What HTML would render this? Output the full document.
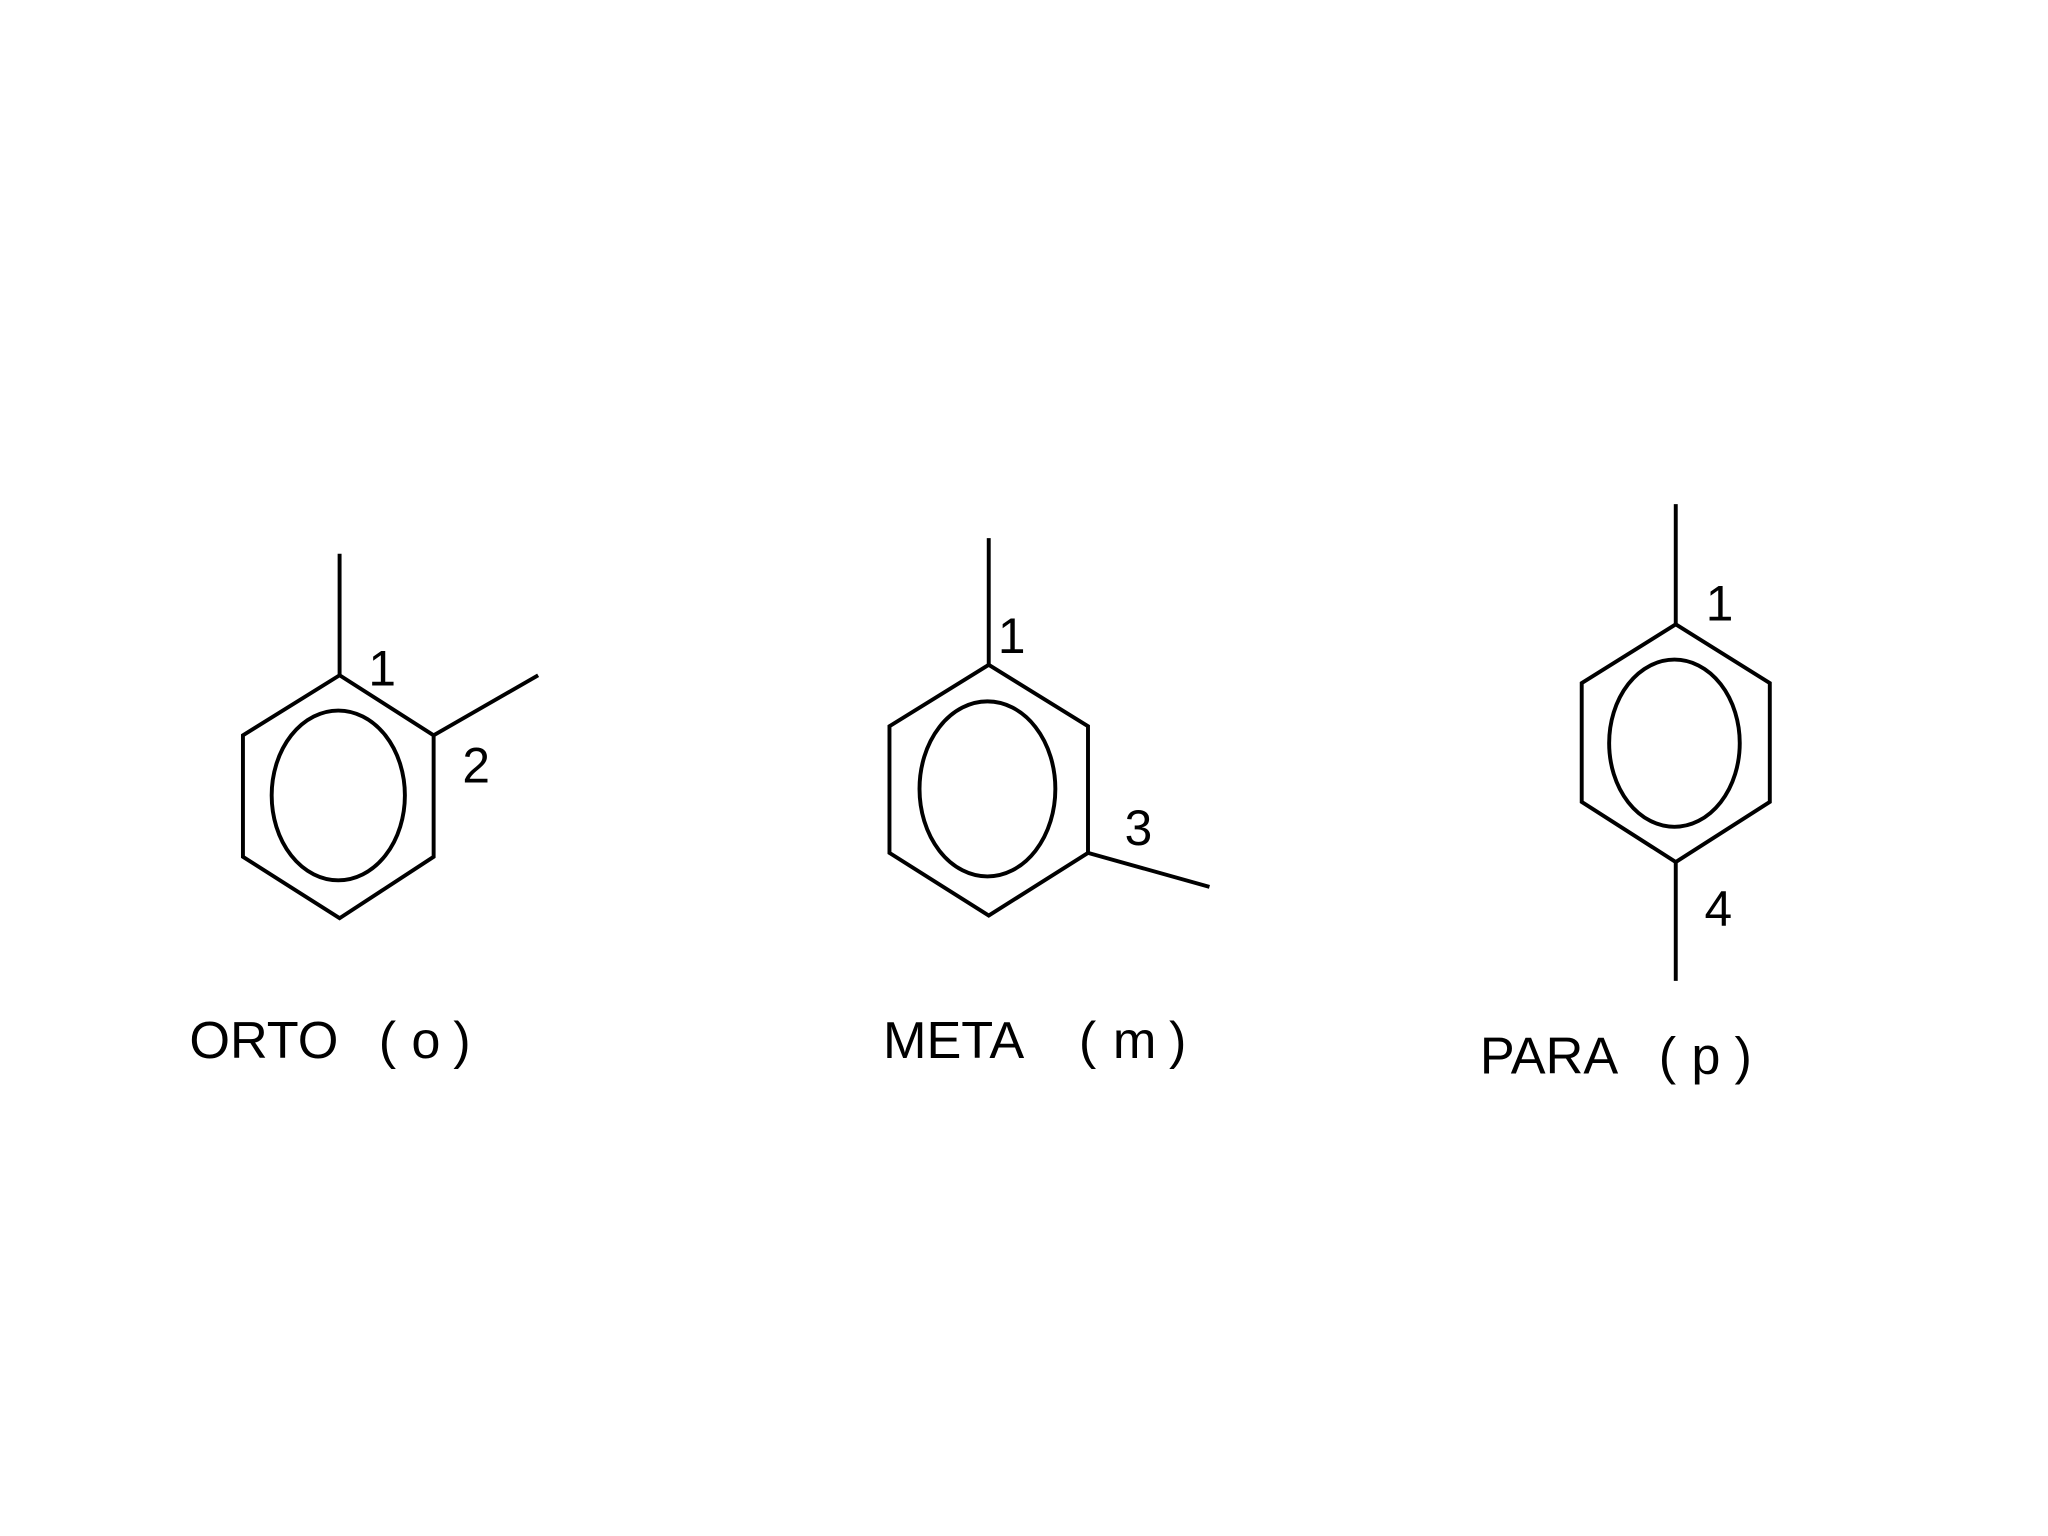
<!DOCTYPE html>
<html><head><meta charset="utf-8"><style>
html,body{margin:0;padding:0;background:#fff;width:2048px;height:1536px;overflow:hidden}
svg{display:block}
text{font-family:"Liberation Sans",sans-serif;fill:#000}
</style></head><body>
<svg width="2048" height="1536" viewBox="0 0 1568 1176">
<g stroke="#000" stroke-width="3" fill="none">
 <g>
  <polygon points="260,517 332,563 332,656 260,703 186,656 186,563"/>
  <line x1="260" y1="517" x2="260" y2="424"/>
  <line x1="332" y1="563" x2="412" y2="517"/>
  <ellipse cx="259" cy="609" rx="51" ry="65"/>
 </g>
 <g>
  <polygon points="757,509 833,556 833,653 757,701 681,653 681,556"/>
  <line x1="757" y1="509" x2="757" y2="412"/>
  <line x1="833" y1="653" x2="926" y2="679"/>
  <ellipse cx="756" cy="604" rx="52" ry="67"/>
 </g>
 <g>
  <polygon points="1283,478 1355,523 1355,614 1283,660 1211,614 1211,523"/>
  <line x1="1283" y1="478" x2="1283" y2="386"/>
  <line x1="1283" y1="660" x2="1283" y2="751"/>
  <ellipse cx="1282" cy="569" rx="50" ry="64"/>
 </g>
</g>
<g font-size="38">
 <text x="282" y="525">1</text>
 <text x="354" y="599">2</text>
 <text x="764" y="500">1</text>
 <text x="861" y="647">3</text>
 <text x="1306" y="475">1</text>
 <text x="1305" y="709">4</text>
</g>
<g font-size="40">
 <g>
  <text x="145" y="810">ORTO</text><text x="290" y="810">(</text><text x="315" y="810">o</text><text x="347" y="810">)</text>
 </g>
 <g>
  <text x="676" y="810">META</text><text x="826" y="810">(</text><text x="852" y="810">m</text><text x="895" y="810">)</text>
 </g>
 <g>
  <text x="1133" y="822">PARA</text><text x="1270" y="822">(</text><text x="1295" y="822">p</text><text x="1328" y="822">)</text>
 </g>
</g>
</svg>
</body></html>
